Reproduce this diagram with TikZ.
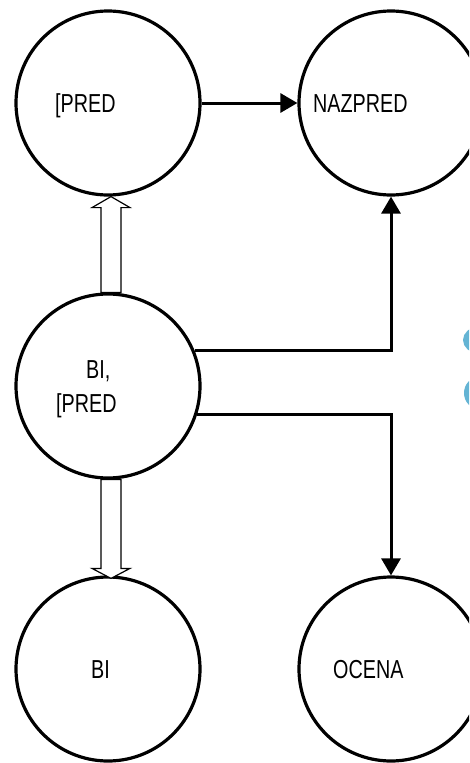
\documentclass[tikz,border=0pt]{standalone}
\usepackage{fontspec}
\setmainfont{Liberation Sans}[FakeStretch=0.76]
\usetikzlibrary{arrows.meta,calc}
\definecolor{skyblue}{HTML}{64B4D4}
\begin{document}
\begin{tikzpicture}[x=1pt,y=-1pt,
  state/.style={circle,draw=black,line width=3.2pt,minimum size=184pt,inner sep=0pt,fill=white},
  lbl/.style={anchor=base west,inner sep=0pt,font=\fontsize{26}{30}\selectfont},
  flow/.style={line width=3pt,-{Triangle[length=17pt,width=19pt]}},
  hollow/.style={draw=black,line width=1.2pt,fill=white,line join=miter}]
\useasboundingbox (0,0) rectangle (469,763);
\clip (0,0) rectangle (469,763);

% state circles
\node[state] (c1) at (108,103) {};
\node[state] (c2) at (391,103) {};
\node[state] (c3) at (108,386) {};
\node[state] (c4) at (108,669) {};
\node[state] (c5) at (391,669) {};

% labels inside the circles
\node[lbl] (t1) at (55,112) {[PRED};
\node[lbl] (t2) at (313,112) {NAZPRED};
\node[lbl] (t3a) at (86,378) {BI,};
\node[lbl] (t3b) at (56,412) {[PRED};
\node[lbl] (t4) at (91,678) {BI};
\node[lbl] (t5) at (333,678) {OCENA};

% solid connectors
\draw[flow] (c1.east) -- (c2.west);
\draw[flow] (c3.22) -| (c2.south);
\draw[flow] (c3.-18) -| (c5.north);

% hollow block arrows
\draw[hollow] ($(c1.south)+(3,0)$) -- ++(19,11) -- ++(-9,0) -- ($(c3.north)+(13,0)$)
  -- ++(-20,0) -- ($(c1.south)+(-7,11)$) -- ++(-9,0) -- cycle;
\draw[hollow] ($(c4.north)+(3,3)$) -- ++(19,-10) -- ++(-9,0) -- ($(c3.south)+(13,0)$)
  -- ++(-20,0) -- ($(c4.north)+(-7,-7)$) -- ++(-9,0) -- cycle;

% partial shapes at the right edge
\fill[skyblue] (478,340) ellipse [x radius=15, y radius=13];
\fill[skyblue] (479,393) ellipse [x radius=15, y radius=16];
\end{tikzpicture}
\end{document}
